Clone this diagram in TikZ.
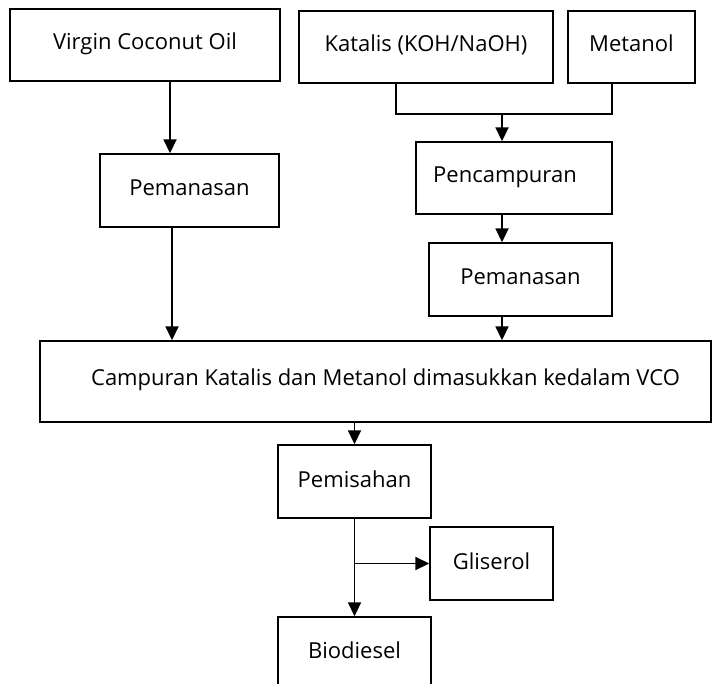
\documentclass[tikz,border=0pt]{standalone}
\usepackage{fontspec}
\setmainfont{Open Sans}
\usetikzlibrary{arrows.meta}
\begin{document}
\begin{tikzpicture}[x=1pt,y=-1pt,
  box/.style={draw=black,line width=1.4pt,rectangle,inner sep=0pt,font=\fontsize{22}{26}\selectfont},
  arr/.style={line width=1.8pt,-{Triangle[width=13pt,length=14pt]}},
  ln/.style={line width=1.8pt}]
\useasboundingbox (0,0) rectangle (719,684);
\clip (0,0) rectangle (719,684);
\node[box,minimum width=270pt,minimum height=72pt] (vco) at (145,45) {\raisebox{7pt}{Virgin Coconut Oil}};
\node[box,minimum width=254pt,minimum height=72pt] (kat) at (426,47) {\raisebox{7pt}{Katalis (KOH/NaOH)}};
\node[box,minimum width=127pt,minimum height=72pt] (met) at (631.5,47) {\raisebox{7pt}{Metanol}};
\node[box,minimum width=179pt,minimum height=73pt] (pem1) at (189.5,190.5) {\raisebox{5pt}{Pemanasan}};
\node[box,minimum width=196pt,minimum height=72pt] (pen) at (514,178) {\hspace*{-18pt}\raisebox{6pt}{Pencampuran}};
\node[box,minimum width=183pt,minimum height=73pt] (pem2) at (520.5,279.5) {\raisebox{5pt}{Pemanasan}};
\node[box,minimum width=671pt,minimum height=81pt] (big) at (375.5,381.5) {\hspace*{20pt}\raisebox{9pt}{Campuran Katalis dan Metanol dimasukkan kedalam VCO}};
\node[box,minimum width=153pt,minimum height=73pt] (pis) at (354.5,481.5) {\raisebox{5pt}{Pemisahan}};
\node[box,minimum width=123pt,minimum height=73pt] (gli) at (491.5,563.5) {\raisebox{4pt}{Gliserol}};
\node[box,minimum width=153pt,minimum height=73pt] (bio) at (354.5,653.5) {\raisebox{6pt}{Biodiesel}};
\coordinate (c1) at (170,0);
\coordinate (c2) at (172,0);
\coordinate (j) at (502,114);
\draw[arr] (vco.south -| c1) -- (pem1.north -| c1);
\draw[ln] ([xshift=-30pt]kat.south) |- (j) -| ([xshift=-19.5pt]met.south);
\draw[arr] (j) -- (pen.north -| j);
\draw[arr] (pen.south -| j) -- (pem2.north -| j);
\draw[arr] (pem2.south -| j) -- (big.north -| j);
\draw[arr] (pem1.south -| c2) -- (big.north -| c2);
\draw[arr] (big.south -| pis.north) -- (pis.north);
\draw[arr] (pis.south) -- (bio.north);
\coordinate (b) at (pis.south |- gli.west);
\draw[arr] (b) -- (gli.west);
\end{tikzpicture}
\end{document}
